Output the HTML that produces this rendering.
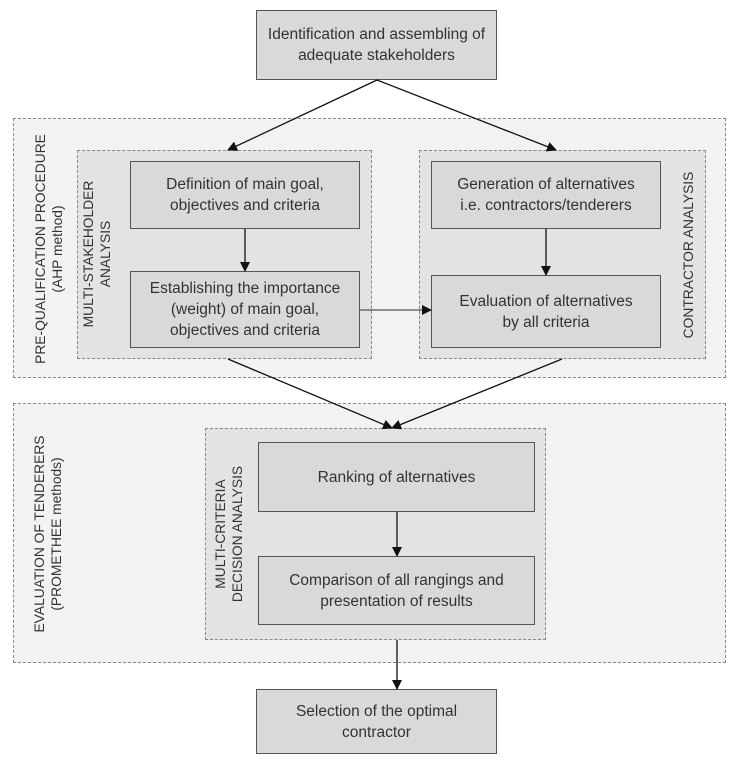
<!DOCTYPE html>
<html><head><style>
body{margin:0;width:746px;height:762px;background:#fff;position:relative;font-family:"Liberation Sans",sans-serif;color:#333;overflow:hidden}
.b{position:absolute;box-sizing:border-box;background:#d9d9d9;border:1.5px solid #555;display:flex;align-items:center;justify-content:center;text-align:center;font-size:15.5px;line-height:21px}
.d{position:absolute;box-sizing:border-box;border:1.3px dashed #888}
.v{position:absolute;transform:rotate(-90deg);transform-origin:center;text-align:center;font-size:13.8px;line-height:17px;white-space:nowrap;color:#333}
</style></head><body>
<div class="d" style="left:13px;top:118px;width:713px;height:260px;background:#f2f2f2"></div>
<div class="d" style="left:13px;top:403px;width:713px;height:260px;background:#f2f2f2"></div>
<div class="d" style="left:77px;top:150px;width:295px;height:209px;background:#e3e3e3"></div>
<div class="d" style="left:419px;top:150px;width:287px;height:209px;background:#e3e3e3"></div>
<div class="d" style="left:205px;top:428px;width:341px;height:212px;background:#e3e3e3"></div>
<div class="b" style="left:256px;top:10px;width:241px;height:70px">Identification and assembling of<br>adequate stakeholders</div>
<div class="b" style="left:130px;top:161px;width:230px;height:68px">Definition of main goal,<br>objectives and criteria</div>
<div class="b" style="left:130px;top:271px;width:230px;height:77px">Establishing the importance<br>(weight) of main goal,<br>objectives and criteria</div>
<div class="b" style="left:431px;top:161px;width:230px;height:68px">Generation of alternatives<br>i.e. contractors/tenderers</div>
<div class="b" style="left:431px;top:275px;width:230px;height:73px">Evaluation of alternatives<br>by all criteria</div>
<div class="b" style="left:258px;top:442px;width:277px;height:70px">Ranking of alternatives</div>
<div class="b" style="left:258px;top:556px;width:277px;height:69px">Comparison of all rangings and<br>presentation of results</div>
<div class="b" style="left:256px;top:689px;width:241px;height:65px">Selection of the optimal<br>contractor</div>
<div class="v" style="left:-70px;top:231px;width:240px;height:36px">PRE-QUALIFICATION PROCEDURE<br>(AHP method)</div>
<div class="v" style="left:-2px;top:236px;width:200px;height:36px">MULTI-STAKEHOLDER<br>ANALYSIS</div>
<div class="v" style="left:589px;top:246px;width:200px;height:18px">CONTRACTOR ANALYSIS</div>
<div class="v" style="left:-71px;top:516px;width:240px;height:36px">EVALUATION OF TENDERERS<br>(PROMETHEE methods)</div>
<div class="v" style="left:130px;top:516px;width:200px;height:36px">MULTI-CRITERIA<br>DECISION ANALYSIS</div>
<svg width="746" height="762" style="position:absolute;left:0;top:0">
<defs><marker id="a" markerWidth="10" markerHeight="10" refX="9" refY="5" orient="auto" markerUnits="userSpaceOnUse"><path d="M0,0L10,5L0,10z" fill="#111"/></marker></defs>
<g stroke="#111" stroke-width="1.3" fill="none" marker-end="url(#a)">
<line x1="377" y1="80" x2="228" y2="150"/>
<line x1="377" y1="80" x2="556" y2="150"/>
<line x1="245" y1="229" x2="245" y2="271"/>
<line x1="546" y1="229" x2="546" y2="275"/>
<line x1="360" y1="310" x2="431" y2="310" stroke="#555"/>
<line x1="228" y1="359" x2="392" y2="428"/>
<line x1="562" y1="359" x2="392" y2="428"/>
<line x1="397" y1="512" x2="397" y2="556"/>
<line x1="397" y1="640" x2="397" y2="689"/>
</g></svg>
</body></html>
